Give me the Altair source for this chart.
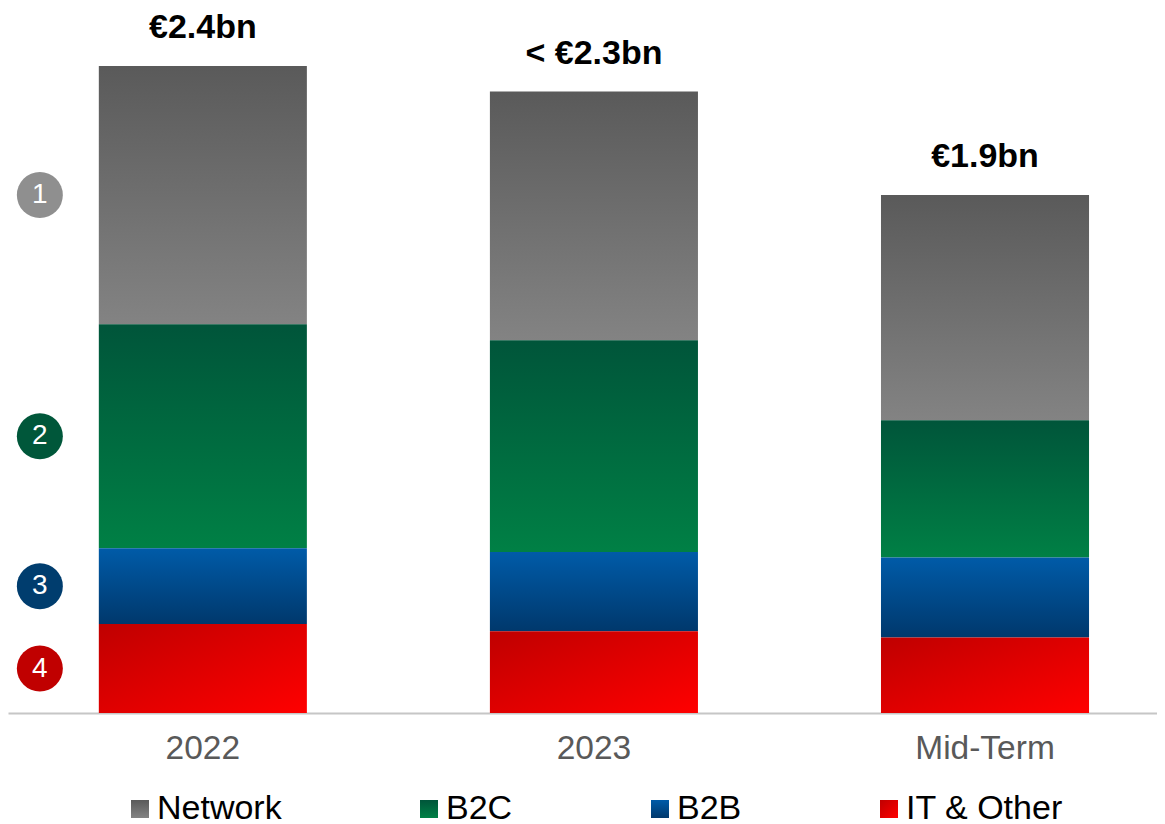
import altair as alt
import pandas as pd

# ---- data ----
categories = ["2022", "2023", "Mid-Term"]
series = ["Network", "B2C", "B2B", "IT & Other"]
network = [0.958, 0.922, 0.835]
b2c = [0.831, 0.786, 0.509]
b2b = [0.281, 0.294, 0.297]
it_other = [0.330, 0.303, 0.280]
total_labels = ["€2.4bn", "< €2.3bn", "€1.9bn"]
badge_numbers = ["1", "2", "3", "4"]
badge_colors = ["#8f8f8f", "#00573a", "#003d6e", "#c00000"]

FONT = "Liberation Sans"


def grad(x2, y2, c0, c1):
    return {"expr": "{gradient: 'linear', x1: 0, y1: 0, x2: %s, y2: %s, "
                    "stops: [{offset: 0, color: '%s'}, {offset: 1, color: '%s'}]}"
                    % (x2, y2, c0, c1)}


series_fills = [
    grad(0, 1, "#5a5a5a", "#838383"),
    grad(0, 1, "#00553a", "#008045"),
    grad(0, 1, "#005ba8", "#00386c"),
    grad(1, 1, "#bf0000", "#ff0000"),
]

values = [network, b2c, b2b, it_other]
stack_rank = [3, 2, 1, 0]

rows = []
for i, c in enumerate(categories):
    for s, vals, rk in zip(series, values, stack_rank):
        rows.append({"cat": c, "series": s, "value": vals[i], "rank": rk})
df = pd.DataFrame(rows)

totals = pd.DataFrame({
    "cat": categories,
    "total": [sum(v[i] for v in values) for i in range(len(categories))],
    "label": total_labels,
})

# badges at the middle of the 2022 segments
badge_rows = []
base = 0.0
for s, vals, num, col in sorted(zip(series, values, badge_numbers, badge_colors),
                                key=lambda t: -int(t[2])):
    badge_rows.append({"cat": categories[0], "series": s, "mid": base + vals[0] / 2,
                       "num": num, "badge_color": col})
    base += vals[0]
badges_df = pd.DataFrame(badge_rows)

x_enc = alt.X(
    "cat:N",
    sort=categories,
    title=None,
    scale=alt.Scale(domain=categories, paddingInner=0.468, paddingOuter=0.203, align=0.572),
    axis=alt.Axis(
        labelFont=FONT, labelFontSize=33.5, labelColor="#595959", labelPadding=19,
        ticks=False, tickSize=0, domainColor="#c6c6c6", domainWidth=2,
        labelAngle=0, grid=False,
    ),
)
y_scale = alt.Scale(domain=[0, 2.615], nice=False, zero=True)

bars = alt.Chart(df).mark_bar().encode(
    x=x_enc,
    y=alt.Y("value:Q", stack="zero", scale=y_scale, axis=None, title=None),
    color=alt.Color(
        "series:N",
        scale=alt.Scale(domain=series, range=series_fills),
        legend=alt.Legend(
            orient="none", legendX=115, legendY=784, direction="horizontal",
            columns=4, title=None, symbolType="square", symbolSize=324,
            symbolStrokeWidth=0, labelFont=FONT, labelFontSize=34,
            labelColor="black", labelOffset=0, columnPadding=130, padding=0,
            labelLimit=400,
        ),
    ),
    order=alt.Order("rank:Q", sort="ascending"),
)

tot_text = alt.Chart(totals).mark_text(
    dy=-28, baseline="alphabetic", align="center", font=FONT,
    fontSize=34, fontWeight="bold", color="black",
).encode(
    x=alt.X("cat:N", sort=categories),
    y=alt.Y("total:Q", scale=y_scale),
    text="label:N",
)

badge_circles = alt.Chart(badges_df).mark_circle(
    xOffset=-163, size=2116, opacity=1,
).encode(
    x=alt.X("cat:N", sort=categories),
    y=alt.Y("mid:Q", scale=y_scale),
    fill=alt.Fill("badge_color:N", scale=None),
)

badge_text = alt.Chart(badges_df).mark_text(
    xOffset=-163, baseline="middle", align="center", font=FONT,
    fontSize=28, color="white",
).encode(
    x=alt.X("cat:N", sort=categories),
    y=alt.Y("mid:Q", scale=y_scale),
    text="num:N",
)

chart = alt.layer(bars, tot_text, badge_circles, badge_text).properties(
    width=1149,
    height=705,
    autosize=alt.AutoSizeParams(type="none"),
    padding={"left": 0, "top": 0, "right": 0, "bottom": 111},
    background="white",
).configure_view(stroke=None)

chart.save("out.html", embed_options={"renderer": "svg", "actions": False})
